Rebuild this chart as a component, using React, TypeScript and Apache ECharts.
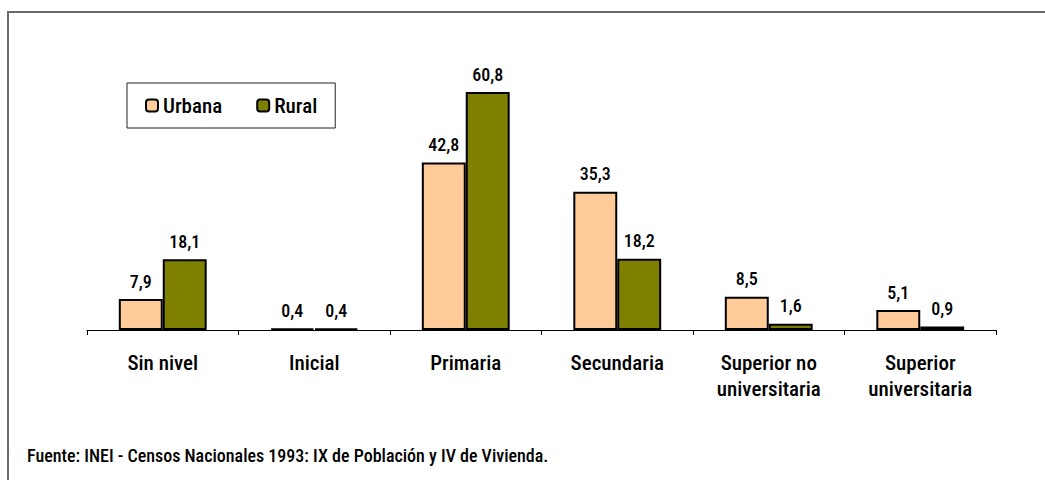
import React, { useEffect, useRef } from "react";
import * as echarts from "echarts";

const categories = ["Sin nivel", "Inicial", "Primaria", "Secundaria", "Superior no\nuniversitaria", "Superior\nuniversitaria"];
const urbana = [7.9, 0.4, 42.8, 35.3, 8.5, 5.1];
const rural = [18.1, 0.4, 60.8, 18.2, 1.6, 0.9];
const seriesNames = ["Urbana", "Rural"];
const source = "Fuente: INEI - Censos Nacionales 1993: IX de Población y IV de Vivienda.";

const FONT = "'Roboto Condensed', 'Arial Narrow', 'Liberation Sans', sans-serif";
const W = 500;
const fmt = (v: number) => v.toFixed(1).replace(".", ",");

export default function App() {
  const ref = useRef<HTMLDivElement>(null);
  useEffect(() => {
    if (!ref.current) return;
    const chart = echarts.init(ref.current, undefined, { renderer: "svg" });
    const label = {
      show: true,
      position: "top" as const,
      distance: 9,
      fontFamily: FONT,
      fontWeight: W,
      fontSize: 18,
      color: "#000",
      formatter: (p: any) => fmt(p.value),
    };
    chart.setOption({
      animation: false,
      backgroundColor: "#fff",
      textStyle: { fontFamily: FONT },
      title: {
        text: source,
        left: 27,
        top: 446,
        padding: 0,
        textStyle: { fontFamily: FONT, fontWeight: W, fontSize: 18, color: "#000" },
      },
      legend: {
        data: seriesNames,
        left: 127,
        top: 83,
        orient: "horizontal",
        padding: [12, 18, 12, 18],
        itemWidth: 12,
        itemHeight: 12,
        itemGap: 34,
        borderColor: "#222",
        borderWidth: 1,
        backgroundColor: "#fff",
        textStyle: { fontFamily: FONT, fontWeight: W, fontSize: 21, color: "#000", lineHeight: 21 },
      },
      grid: { left: 87, right: 49, top: 56, bottom: 150, containLabel: false },
      xAxis: {
        type: "category",
        data: categories,
        axisLine: { show: true, lineStyle: { color: "#000", width: 1 } },
        axisTick: { show: true, length: 5, lineStyle: { color: "#000" } },
        axisLabel: {
          interval: 0,
          margin: 20,
          color: "#000",
          fontFamily: FONT,
          fontWeight: W,
          fontSize: 21,
          lineHeight: 26,
          verticalAlign: "top",
        },
      },
      yAxis: { type: "value", min: 0, max: 70, show: false, splitLine: { show: false } },
      graphic: [
        {
          type: "rect",
          shape: { x: 8, y: 12, width: 1200, height: 700 },
          style: { fill: "none", stroke: "#6b6b6b", lineWidth: 2 },
          silent: true,
          z: -10,
        },
      ],
      series: [
        {
          name: seriesNames[0],
          type: "bar",
          data: urbana,
          barGap: "0%",
          barCategoryGap: "42%",
          itemStyle: { color: "#FFCC99", borderColor: "#000", borderWidth: 2 },
          label,
        },
        {
          name: seriesNames[1],
          type: "bar",
          data: rural,
          barGap: "0%",
          barCategoryGap: "42%",
          itemStyle: { color: "#808000", borderColor: "#000", borderWidth: 2 },
          label,
        },
      ],
    });
    return () => chart.dispose();
  }, []);
  return <div ref={ref} style={{ position: "fixed", left: 0, top: 0, width: 1045, height: 480 }} />;
}
